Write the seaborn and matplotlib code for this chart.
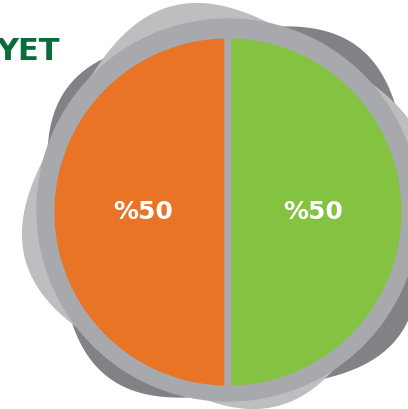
import numpy as np
import matplotlib.pyplot as plt
import seaborn as sns
from matplotlib.patches import Polygon, Circle

labels = ['Hayır', 'Evet']
values = [50, 50]
colors = ['#e97426', '#84c341']
title_text = 'YET'

sns.set_theme(style='white')
plt.rcParams['font.family'] = ['DejaVu Sans']

W, H = 408, 409
fig = plt.figure(figsize=(W / 100, H / 100), dpi=100)
ax = fig.add_axes([0, 0, 1, 1])


# rounded-square blobs behind the pie
def blob(cx, cy, a, b, n, rot):
    t = np.linspace(0, 2 * np.pi, 500)
    c, s = np.cos(t), np.sin(t)
    x = a * np.sign(c) * np.abs(c) ** (2 / n)
    y = b * np.sign(s) * np.abs(s) ** (2 / n)
    r = np.deg2rad(rot)
    xr = cx + x * np.cos(r) - y * np.sin(r)
    yr = cy + x * np.sin(r) + y * np.cos(r)
    return np.column_stack([xr, yr])


ax.add_patch(Polygon(blob(233, H - 212, 179, 179, 3.4, 8), color='#808285', zorder=1))
ax.add_patch(Polygon(blob(225, H - 206, 181, 181, 3.2, -30), color='#bcbec0', zorder=2))
ax.add_patch(Circle((228, H - 210), 191, color='#a7a9ac', zorder=3))

cx, cy = 228, H - 212
wedges, texts, autotexts = ax.pie(
    values, colors=colors, startangle=90, counterclock=True,
    center=(cx, cy), radius=177, autopct=lambda p: f'%{p:.0f}',
    pctdistance=0.48, frame=True,
    wedgeprops=dict(edgecolor='#a7a9ac', linewidth=5),
    textprops=dict(color='white', fontsize=18, fontweight='bold'))
for w in wedges:
    w.set_zorder(4)
for t in autotexts:
    t.set_zorder(5)

ax.set_xlim(0, W)
ax.set_ylim(0, H)
ax.set_aspect('equal')
ax.axis('off')

ax.text(60, H - 52, title_text, ha='right', va='center', fontsize=22,
        fontweight='bold', color='#0b6b3a', zorder=6)

fig.savefig('out.png', dpi=100)
